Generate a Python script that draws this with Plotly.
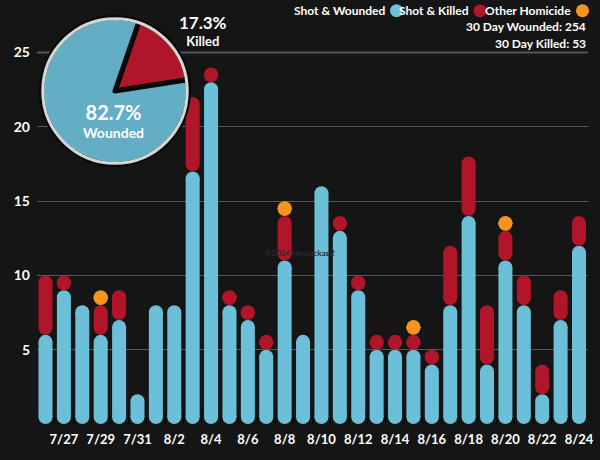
import plotly.graph_objects as go

# ---------------- data ----------------
dates = ["7/26", "7/27", "7/28", "7/29", "7/30", "7/31", "8/1", "8/2", "8/3", "8/4",
         "8/5", "8/6", "8/7", "8/8", "8/9", "8/10", "8/11", "8/12", "8/13", "8/14",
         "8/15", "8/16", "8/17", "8/18", "8/19", "8/20", "8/21", "8/22", "8/23", "8/24"]
wounded = [6, 9, 8, 6, 7, 2, 8, 8, 17, 23, 8, 7, 5, 11, 6, 16, 13, 9, 5, 5,
           5, 4, 8, 14, 4, 11, 8, 2, 7, 12]
shot_killed = [4, 1, 0, 2, 2, 0, 0, 0, 5, 1, 1, 1, 1, 3, 0, 0, 1, 1, 1, 1,
               1, 1, 4, 4, 4, 2, 2, 2, 2, 2]
other_homicide = [0, 0, 0, 1, 0, 0, 0, 0, 0, 0, 0, 0, 0, 1, 0, 0, 0, 0, 0, 0,
                  1, 0, 0, 0, 0, 1, 0, 0, 0, 0]
label_dates = dates[1::2]
y_ticks = [5, 10, 15, 20, 25]

total_wounded = sum(wounded)
total_killed = sum(shot_killed) + sum(other_homicide)

# ---------------- geometry / style ----------------
W, H = 600, 460
ML, MR, MT, MB = 37, 12, 5, 36
PW, PH = W - ML - MR, H - MT - MB
X0, X1 = -0.462, 29.489
PX_X = PW / (X1 - X0)
Y1 = 28.2
PX_Y = PH / Y1
BAR_PX = 14
bar_w = BAR_PX / PX_X
r_y = BAR_PX / 2 / PX_Y

BLUE = "#6cbfd8"
RED = "#b1152a"
ORANGE = "#f7941d"
PIE_BLUE = "#63adc5"
PIE_RED = "#b0162b"
BG = "#151515"
FONT = "Lato"


def fx(p):
    return (p - ML) / PW


def fy(p):
    return (H - MB - p) / PH


fig = go.Figure()

stack_bottom = [0] * len(dates)
for vals, color, name in [(wounded, BLUE, "Shot & Wounded"),
                          (shot_killed, RED, "Shot & Killed"),
                          (other_homicide, ORANGE, "Other Homicide")]:
    bx, bbase, bh, cx, cy = [], [], [], [], []
    for i, v in enumerate(vals):
        if v <= 0:
            continue
        a = stack_bottom[i]
        b = a + v
        bx.append(i)
        bbase.append(a + r_y)
        bh.append(max(b - a - 2 * r_y, 0))
        cx += [i, i]
        cy += [a + r_y, b - r_y]
        stack_bottom[i] = b
    fig.add_trace(go.Bar(x=bx, y=bh, base=bbase, width=bar_w, name=name,
                         marker=dict(color=color, line=dict(width=0)),
                         hoverinfo="skip", showlegend=False))
    fig.add_trace(go.Scatter(x=cx, y=cy, mode="markers",
                             marker=dict(color=color, size=BAR_PX, line=dict(width=0)),
                             hoverinfo="skip", showlegend=False))

# ---------------- pie inset ----------------
PCX, PCY, PR = 115, 91, 73.5
pie_dom = dict(x=[fx(PCX - PR), fx(PCX + PR)], y=[fy(PCY + PR), fy(PCY - PR)])
RR = PR - 1.25
ring_dom = dict(x=[fx(PCX - RR), fx(PCX + RR)], y=[fy(PCY + RR), fy(PCY - RR)])
fig.add_trace(go.Pie(values=[total_killed, total_wounded], labels=["Killed", "Wounded"],
                     sort=False, direction="clockwise", rotation=19,
                     marker=dict(colors=[PIE_RED, PIE_BLUE], line=dict(color="#080808", width=5)),
                     textinfo="none", hoverinfo="skip", showlegend=False, domain=pie_dom))
fig.add_trace(go.Pie(values=[1], labels=["ring"], sort=False,
                     marker=dict(colors=["rgba(0,0,0,0)"], line=dict(color="#d6d6d6", width=3)),
                     textinfo="none", hoverinfo="skip", showlegend=False, domain=ring_dom))

pct_w = 100 * total_wounded / (total_wounded + total_killed)
pct_k = 100 * total_killed / (total_wounded + total_killed)

annotations = []


def ann(text, x, y, size, xanchor="center", color="white", yanchor="middle"):
    annotations.append(dict(text=text, x=fx(x), y=fy(y), xref="paper", yref="paper",
                            xanchor=xanchor, yanchor=yanchor, showarrow=False,
                            font=dict(family=FONT, size=size, color=color, weight="bold")))


ann(f"<b><span style='font-size:20px'>{pct_w:.1f}%</span></b><br><b>Wounded</b>", 113, 121, 14)
ann(f"<b><span style='font-size:17px'>{pct_k:.1f}%</span></b><br><b>Killed</b>", 203, 30.5, 13)

# legend
ann("Shot & Wounded", 387, 10.7, 12, xanchor="right")
ann("Shot & Killed", 471, 10.7, 12, xanchor="right")
ann("Other Homicide", 573, 10.7, 12, xanchor="right")
ann(f"30 Day Wounded: {total_wounded}", 588, 26.7, 12, xanchor="right")
ann(f"30 Day Killed: {total_killed}", 588, 43.3, 12, xanchor="right")
ann("©2024 HeyJackass!", 300, 253, 8, color="#2c2c2c")

shapes = []
for cxp, col in [(396.5, BLUE), (480, RED), (582.5, ORANGE)]:
    shapes.append(dict(type="circle", xref="paper", yref="paper",
                       x0=fx(cxp - 6.5), x1=fx(cxp + 6.5), y0=fy(10.7 + 6.5), y1=fy(10.7 - 6.5),
                       fillcolor=col, line=dict(width=0)))
shapes.append(dict(type="line", xref="paper", yref="y", x0=0, x1=1, y0=25, y1=25,
                   line=dict(color="#3a3f44", width=2.5), layer="below"))

fig.update_layout(
    width=W, height=H,
    margin=dict(l=ML, r=MR, t=MT, b=MB, pad=0),
    paper_bgcolor=BG, plot_bgcolor=BG,
    barmode="overlay", showlegend=False,
    annotations=annotations, shapes=shapes,
    xaxis=dict(range=[X0, X1], tickmode="array",
               tickvals=[dates.index(d) for d in label_dates], ticktext=label_dates,
               showgrid=False, zeroline=False, showline=False, ticks="",
               tickfont=dict(family=FONT, size=13, color="white", weight="bold"),
               ticklabelstandoff=6,
               minor=dict(ticks="inside", ticklen=10, tickcolor="#000000", tickwidth=1,
                          tickmode="array", tickvals=[i - 0.5 for i in range(len(dates) + 1)],
                          showgrid=False)),
    yaxis=dict(range=[0, Y1], tickmode="array", tickvals=y_ticks,
               showgrid=True, gridcolor="#575757", gridwidth=1,
               zeroline=False, showline=False, ticks="",
               tickfont=dict(family=FONT, size=14, color="white", weight="bold"),
               ticklabelstandoff=6),
)

fig.write_html("out.html", config={"displayModeBar": False},
               post_script="document.body.style.margin='0';document.body.style.background='%s';" % BG)
